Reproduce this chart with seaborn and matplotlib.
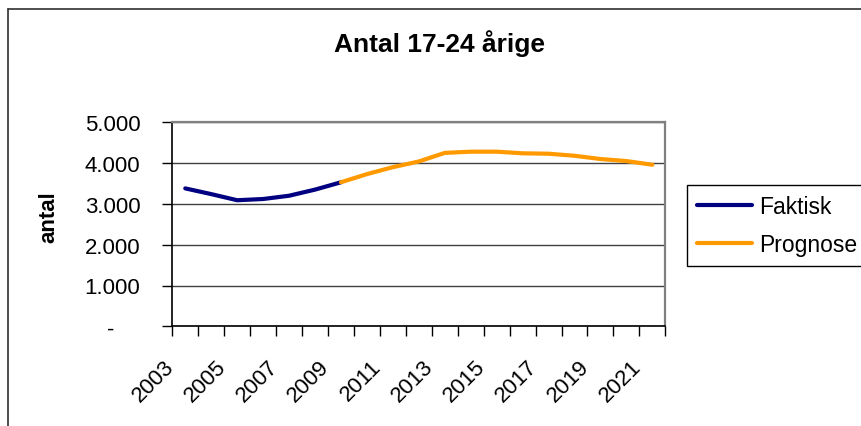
import pandas as pd
import matplotlib
matplotlib.use("Agg")
import matplotlib.pyplot as plt
import matplotlib.transforms as mtrans
from matplotlib.lines import Line2D
import seaborn as sns

# data
years = list(range(2003, 2022))
faktisk_years = list(range(2003, 2010))
faktisk = [3380, 3240, 3090, 3120, 3200, 3350, 3530]
prognose_years = list(range(2009, 2022))
prognose = [3530, 3730, 3900, 4040, 4250, 4280, 4280, 4240, 4230, 4180, 4100, 4050, 3960]
y_ticks = [0, 1000, 2000, 3000, 4000, 5000]
y_labels = ["-", "1.000", "2.000", "3.000", "4.000", "5.000"]
label_years = years[::2]
colors = {"Faktisk": "#000080", "Prognose": "#FF9900"}

df = pd.concat([
    pd.DataFrame({"year": faktisk_years, "antal": faktisk, "serie": "Faktisk"}),
    pd.DataFrame({"year": prognose_years, "antal": prognose, "serie": "Prognose"}),
], ignore_index=True)

sns.set_style("white")
plt.rcParams["font.family"] = ["Liberation Sans", "DejaVu Sans"]
plt.rcParams["text.color"] = "black"
plt.rcParams["xtick.color"] = "black"
plt.rcParams["ytick.color"] = "black"
plt.rcParams["axes.labelcolor"] = "black"

W, H = 862, 427
fig = plt.figure(figsize=(W / 100, H / 100), dpi=100)
ax = fig.add_axes([172.3 / W, 1 - 327.3 / H, 493 / W, 204 / H])

sns.lineplot(data=df, x="year", y="antal", hue="serie", palette=colors,
             linewidth=3, ax=ax, sort=False)

ax.set_xlim(years[0] - 0.5, years[-1] + 0.5)
ax.set_ylim(0, 5000)
ax.set_xlabel("")
ax.set_ylabel("")

# y axis
ax.set_yticks(y_ticks)
ax.set_yticklabels(y_labels)
ax.tick_params(axis="y", direction="out", length=7, width=1, color="black",
               labelsize=16, labelcolor="black", pad=16, left=True)
zero_lab = ax.get_yticklabels()[0]
zero_lab.set_transform(zero_lab.get_transform() +
                       mtrans.ScaledTranslation(-0.26, 0, fig.dpi_scale_trans))

# x axis: tick marks between categories, labels every other year
ax.set_xticks(label_years)
ax.set_xticklabels([str(y) for y in label_years], rotation=45, ha="right",
                   va="top", rotation_mode="anchor")
ax.set_xticks([y - 0.5 for y in years] + [years[-1] + 0.5], minor=True)
ax.tick_params(axis="x", which="major", length=0, labelsize=16,
               labelcolor="black", pad=21)
ax.tick_params(axis="x", which="minor", direction="out", length=7, width=1,
               color="black", bottom=True)
for lab in ax.get_xticklabels():
    lab.set_transform(lab.get_transform() +
                      mtrans.ScaledTranslation(-0.22, 0, fig.dpi_scale_trans))

ax.yaxis.grid(True, color="#404040", lw=1)
ax.xaxis.grid(False)
ax.set_axisbelow(True)
for s in ["left", "bottom"]:
    ax.spines[s].set_color("black")
    ax.spines[s].set_linewidth(1.2)
for s in ["top", "right"]:
    ax.spines[s].set_color("#808080")
    ax.spines[s].set_linewidth(1.6)

handles, labels = ax.get_legend_handles_labels()
leg = ax.legend(handles, labels, loc="upper left",
                bbox_to_anchor=(686.7 / W, 1 - 186 / H),
                bbox_transform=fig.transFigure, fontsize=16.5, frameon=True,
                fancybox=False, edgecolor="black", framealpha=1,
                handlelength=2.4, handletextpad=0.3, labelspacing=0.62,
                borderpad=0.45, borderaxespad=0)
leg.get_frame().set_linewidth(1)
for h in leg.get_lines():
    h.set_linewidth(3)
for t in leg.get_texts():
    t.set_color("black")

fig.text(440 / W, 1 - 52 / H, "Antal 17-24 årige", ha="center", va="baseline",
         fontsize=19, fontweight="bold")
fig.text(49 / W, 1 - 217 / H, "antal", rotation=90, ha="center", va="center",
         fontsize=16, fontweight="bold")

# outer chart border (left and top visible)
fig.add_artist(Line2D([8 / W, 8 / W], [0, 1 - 10 / H], color="#303030", lw=1.2,
                      transform=fig.transFigure))
fig.add_artist(Line2D([8 / W, 1], [1 - 10 / H, 1 - 10 / H], color="#303030",
                      lw=1.2, transform=fig.transFigure))

fig.savefig("out.png", dpi=100)
